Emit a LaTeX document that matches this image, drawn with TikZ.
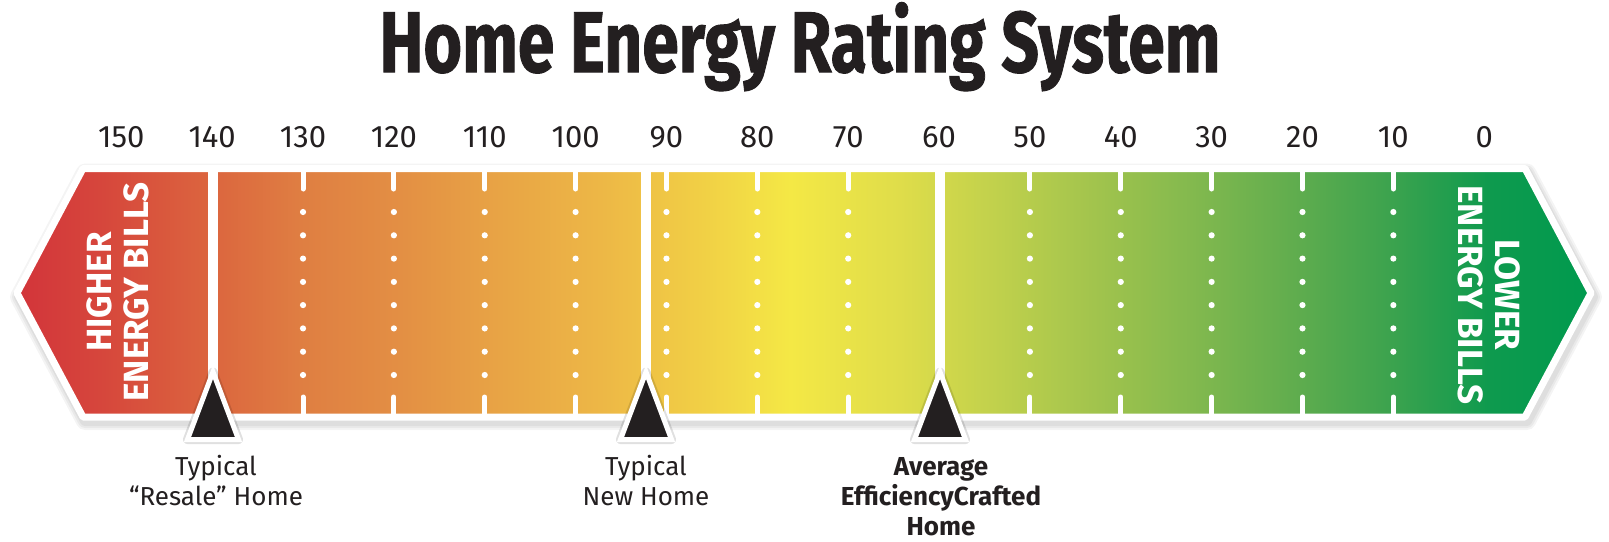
\documentclass[tikz,border=0pt]{standalone}
\usepackage{fontspec}
\setmainfont{Fira Sans}
\newfontfamily\titlefont{Fira Sans}[BoldFeatures={FakeBold=1.2}]
\usepackage{graphicx}
\definecolor{s0}{HTML}{D2343A}
\definecolor{s1}{HTML}{D6463C}
\definecolor{s2}{HTML}{DB623E}
\definecolor{s3}{HTML}{DF7E42}
\definecolor{s4}{HTML}{E38F44}
\definecolor{s5}{HTML}{E8A445}
\definecolor{s6}{HTML}{EDB746}
\definecolor{s7}{HTML}{F1CF45}
\definecolor{s8}{HTML}{F4E845}
\definecolor{s9}{HTML}{DFDD4A}
\definecolor{s10}{HTML}{BFD04C}
\definecolor{s11}{HTML}{A0C34D}
\definecolor{s12}{HTML}{80B84E}
\definecolor{s13}{HTML}{5EAC4E}
\definecolor{s14}{HTML}{38A24E}
\definecolor{s15}{HTML}{0E9A4E}
\definecolor{s16}{HTML}{009A4E}
\definecolor{markfill}{HTML}{231F20}
\definecolor{txt}{HTML}{231F20}
\pgfdeclarehorizontalshading{barshade}{100bp}{%
  color(0bp)=(s0); color(25bp)=(s0); color(27.64bp)=(s1); color(30.81bp)=(s2);
  color(33.99bp)=(s3); color(37.17bp)=(s4); color(40.34bp)=(s5); color(43.52bp)=(s6);
  color(46.70bp)=(s7); color(49.56bp)=(s8); color(53.05bp)=(s9); color(56.23bp)=(s10);
  color(59.40bp)=(s11); color(62.58bp)=(s12); color(65.76bp)=(s13); color(68.93bp)=(s14);
  color(71.79bp)=(s15); color(75bp)=(s16); color(100bp)=(s16)}
\begin{document}
\begin{tikzpicture}[x=1pt,y=-1pt,
  barpath/.style={insert path={(17,293) -- (83,168.5) -- (1525,168.5) -- (1591,293) -- (1525,417) -- (83,417) -- cycle}},
  tickdash/.style={white,line width=5pt,line cap=round},
  tickdot/.style={white},
  divider/.style={white,line width=9.5pt},
  marker/.style={fill=markfill,draw=white,line width=5pt,line join=miter},
  markshadow/.style={black,opacity=.12,line width=9pt,line join=round},
  numlabel/.style={font=\fontsize{31}{31}\selectfont,text=txt,anchor=base,inner sep=0pt},
  sidelabel/.style={font=\bfseries\fontsize{35}{36.5}\selectfont,text=white,align=center,inner sep=0pt},
  lowlabel/.style={font=\fontsize{26}{30}\selectfont,text=txt,align=center,anchor=base,inner sep=0pt},
  lowlabelbold/.style={font=\bfseries\fontsize{26}{30}\selectfont,text=txt,align=center,anchor=base,inner sep=0pt}
]
\useasboundingbox (0,0) rectangle (1609,541);
\fill[white] (0,0) rectangle (1609,541);
% title
\node[anchor=base,inner sep=0pt,text=txt] (title) at (800,72)
  {\resizebox{841pt}{\height}{\titlefont\bfseries\fontsize{86}{86}\selectfont Home Energy Rating System}};
% scale numbers
\foreach \v in {150,140,...,0} {
  \pgfmathsetmacro\xx{121.3+(150-\v)*9.086}
  \node[numlabel] (n\v) at (\xx,147) {\v};
}
% bar shadow
\foreach \w in {18,14,10} {
  \draw[black,opacity=.045,line width=\w pt,line join=round,shift={(2,4)},barpath];
}
% bar fill
\shade[shading=barshade,barpath];
% dotted ticks
\foreach \v in {130,120,110,100,90,80,70,50,40,30,20,10} {
  \pgfmathsetmacro\xx{121.3+(150-\v)*9.086}
  \draw[tickdash] (\xx,170) -- (\xx,189);
  \draw[tickdash] (\xx,397) -- (\xx,416);
  \foreach \yy in {212,235.3,258.6,281.9,305.1,328.4,351.7,375} {
    \fill[tickdot] (\xx,\yy) circle (3.1pt);
  }
}
% solid dividers
\coordinate (d1) at (213,168.5);
\coordinate (d2) at (646,168.5);
\coordinate (d3) at (940,168.5);
\foreach \d in {d1,d2,d3} { \draw[divider] (\d) -- ++(0,248.5); }
% bar border
\draw[white,line width=7pt,line join=round,barpath];
% side labels
\node[sidelabel,rotate=90] (hi) at (118,292) {HIGHER\\ENERGY BILLS};
\node[sidelabel,rotate=-90] (lo) at (1489,295) {LOWER\\ENERGY BILLS};
% markers
\coordinate (m1) at (213,372);
\coordinate (m2) at (646,372);
\coordinate (m3) at (940,372);
\foreach \m in {m1,m2,m3} {
  \draw[markshadow,shift={(2,3)}] (\m) -- ++(25.5,67.5) -- ++(-51,0) -- cycle;
  \draw[marker] (\m) -- ++(25.5,67.5) -- ++(-51,0) -- cycle;
}
% lower labels (base anchor = baseline of the last line)
\node[lowlabel] (l1) at (216,505) {Typical\\“Resale” Home};
\node[lowlabel] (l2) at (646,505) {Typical\\New Home};
\node[lowlabelbold] (l3) at (941,535) {Average\\EfficiencyCrafted\\Home};
\end{tikzpicture}
\end{document}
